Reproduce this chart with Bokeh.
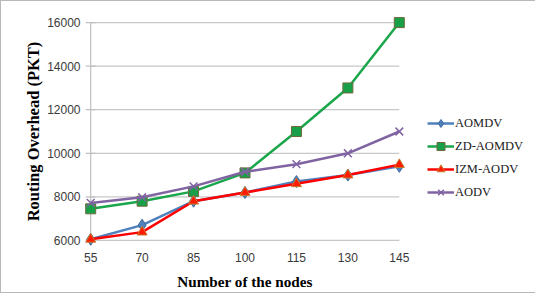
from bokeh.plotting import figure
from bokeh.models import Legend, LegendItem, FixedTicker, Range1d
from bokeh.embed import file_html
from bokeh.resources import INLINE

nodes = [55, 70, 85, 100, 115, 130, 145]
aomdv = [6050, 6700, 7800, 8200, 8700, 9000, 9400]
zd_aomdv = [7450, 7800, 8250, 9100, 11000, 13000, 16000]
izm_aodv = [6050, 6380, 7800, 8200, 8600, 9000, 9480]
aodv = [7720, 7980, 8480, 9150, 9500, 10000, 11000]
y_ticks = [6000, 8000, 10000, 12000, 14000, 16000]

p = figure(frame_width=321, frame_height=230, output_backend="svg", toolbar_location=None,
           x_range=Range1d(53.2, 146.8), y_range=Range1d(5720, 16280),
           min_border_left=83, min_border_right=118, min_border_top=15, min_border_bottom=44)
p.styles = {"border": "1px solid #b8b8b8"}
p.outline_line_color = None
p.background_fill_color = "white"
p.border_fill_color = "white"

p.xgrid.grid_line_color = None
p.ygrid.grid_line_color = None

# gridlines, y-axis line and y tick marks drawn within the data extent
n = len(y_ticks)
p.segment(x0=[nodes[0]] * n, x1=[nodes[-1]] * n, y0=y_ticks, y1=y_ticks,
          line_color="#c8c8c8", line_width=1.2)
p.segment(x0=[nodes[0]], x1=[nodes[0]], y0=[y_ticks[0]], y1=[y_ticks[-1]],
          line_color="#c0c0c0", line_width=1.2)
p.scatter([nodes[0]] * n, y_ticks, marker="dash", size=10, line_color="#c0c0c0", line_width=1.2)

p.xaxis.ticker = FixedTicker(ticks=nodes)
p.yaxis.ticker = FixedTicker(ticks=y_ticks)
for ax in (p.xaxis, p.yaxis):
    ax.axis_line_color = None
    ax.major_tick_line_color = None
    ax.minor_tick_line_color = None
    ax.major_tick_out = 0
    ax.major_tick_in = 0
    ax.major_label_text_font = "Liberation Sans"
    ax.major_label_text_font_size = "12px"
    ax.major_label_text_color = "#3a3a3a"
    ax.axis_label_text_font = "Liberation Serif"
    ax.axis_label_text_font_style = "bold"
    ax.axis_label_text_color = "#000000"
p.xaxis.axis_label_text_font_size = "15.2px"
p.yaxis.axis_label_text_font_size = "16.5px"
p.yaxis.major_label_standoff = 4
p.xaxis.major_label_standoff = 6
p.xaxis.axis_label = "Number of the nodes"
p.yaxis.axis_label = "Routing Overhead (PKT)"
p.xaxis.axis_label_standoff = 8
p.yaxis.axis_label_standoff = 1

lw = 2.5
g_l = p.line(nodes, zd_aomdv, line_color="#1BA64B", line_width=lw)
g_s = p.scatter(nodes, zd_aomdv, marker="square", size=10, fill_color="#18A048", line_color="#6E6A3C", line_width=1)
v_l = p.line(nodes, aodv, line_color="#8064A2", line_width=lw)
v_s = p.scatter(nodes, aodv, marker="x", size=11, line_color="#8064A2", line_width=1.5)
b_l = p.line(nodes, aomdv, line_color="#4F81BD", line_width=lw)
b_s = p.scatter(nodes, aomdv, marker="diamond", size=12, fill_color="#4F81BD", line_color="#3D6A9E", line_width=1)
r_l = p.line(nodes, izm_aodv, line_color="#FF0000", line_width=lw)
r_s = p.scatter(nodes, izm_aodv, marker="triangle", size=10, fill_color="#FF1A00", line_color="#C87A30", line_width=1)

legend = Legend(items=[
    LegendItem(label="AOMDV", renderers=[b_l, b_s]),
    LegendItem(label="ZD-AOMDV", renderers=[g_l, g_s]),
    LegendItem(label="IZM-AODV", renderers=[r_l, r_s]),
    LegendItem(label="AODV", renderers=[v_l, v_s]),
], location=(22, 44))
legend.border_line_color = None
legend.background_fill_alpha = 0
legend.label_text_font = "Times New Roman"
legend.label_text_font_style = "normal"
legend.label_text_font_size = "12.5px"
legend.label_text_color = "#202020"
legend.glyph_width = 27
legend.glyph_height = 20
legend.spacing = 3
legend.label_standoff = 1
legend.padding = 2
legend.margin = 0
p.add_layout(legend, "right")

open("out.html", "w").write(file_html(p, INLINE))
